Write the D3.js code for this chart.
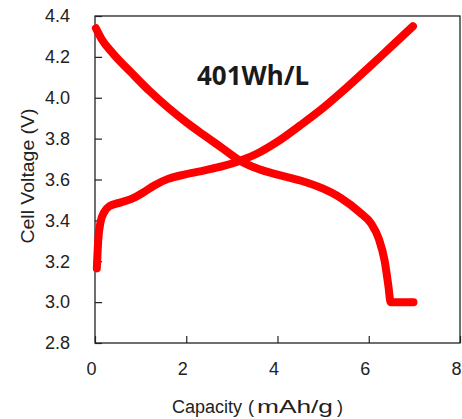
<!DOCTYPE html>
<html>
<head>
<meta charset="utf-8">
<script src="https://cdn.jsdelivr.net/npm/d3@7"></script>
<style>
	body { margin: 0; background: #fff; }
	text { font-family: "Liberation Sans", Arial, sans-serif; fill: #222; }
</style>
</head>
<body>
<div id="chart"></div>
<script>
// charge curve (rising)
var chargeCap = [0.04, 0.07, 0.12, 0.2, 0.32, 0.55, 0.8, 1.05, 1.3, 1.6, 2.0, 2.4, 2.8, 3.18, 3.6, 4.0, 4.5, 5.0, 5.5, 6.0, 6.5, 6.97]
var chargeV = [3.165, 3.30, 3.39, 3.44, 3.47, 3.487, 3.505, 3.535, 3.571, 3.603, 3.626, 3.645, 3.665, 3.692, 3.732, 3.785, 3.865, 3.95, 4.046, 4.148, 4.252, 4.35]
// discharge curve (falling)
var dischargeCap = [0.02, 0.15, 0.4, 0.8, 1.2, 1.6, 2.0, 2.4, 2.8, 3.18, 3.6, 4.0, 4.5, 5.0, 5.4, 5.8, 6.05, 6.22, 6.35, 6.43, 6.48, 6.98]
var dischargeV = [4.34, 4.285, 4.215, 4.122, 4.032, 3.952, 3.88, 3.815, 3.752, 3.692, 3.65, 3.624, 3.595, 3.555, 3.508, 3.44, 3.385, 3.31, 3.2, 3.08, 3.0, 3.0]

var xTicks = [0, 2, 4, 6, 8]
var yTicks = [2.8, 3.0, 3.2, 3.4, 3.6, 3.8, 4.0, 4.2, 4.4]

var margin = { left: 95, right: 2, top: 16, bottom: 76 }
var svgWidth = 462, svgHeight = 419
var width = svgWidth - margin.left - margin.right,
	height = svgHeight - margin.top - margin.bottom

var svg = d3.select("#chart")
	.append("svg")
	.attr("width", svgWidth)
	.attr("height", svgHeight)

var g = svg.append("g")
	.attr("transform", "translate(" + margin.left + ", " + margin.top + ")")

var x = d3.scaleLinear().domain([0, 8]).range([0, width])
var y = d3.scaleLinear().domain([2.8, 4.4]).range([height, 0])

var line = d3.line()
	.x(d => x(d[0]))
	.y(d => y(d[1]))
	.curve(d3.curveMonotoneX)

var charge = chargeCap.map((c, i) => [c, chargeV[i]])
var discharge = dischargeCap.map((c, i) => [c, dischargeV[i]])

// frame
g.append("rect")
	.attr("width", width)
	.attr("height", height)
	.attr("fill", "none")
	.attr("stroke", "#222")
	.attr("stroke-width", 1.3)

//axes
var xAxisCall = d3.axisBottom(x)
	.tickValues(xTicks)
	.tickSizeInner(-7)
	.tickSizeOuter(0)
	.tickPadding(19)
	.tickFormat(d3.format("d"))
var xAxis = g.append("g")
	.attr("class", "x axis")
	.attr("transform", "translate(0, " + height + ")")
	.call(xAxisCall)
xAxis.select(".domain").remove()
xAxis.selectAll("text").attr("dx", -4).attr("font-size", "18px")

var yAxisCall = d3.axisLeft(y)
	.tickValues(yTicks)
	.tickSizeInner(-7)
	.tickSizeOuter(0)
	.tickPadding(25)
	.tickFormat(d3.format(".1f"))
var yAxis = g.append("g")
	.attr("class", "y axis")
	.call(yAxisCall)
yAxis.select(".domain").remove()
yAxis.selectAll("text").attr("font-size", "18px")

svg.selectAll(".tick line").attr("stroke", "#222").attr("stroke-width", 1.2)
svg.selectAll(".tick text").style("fill", "#222").style("font-family", "'Liberation Sans', Arial, sans-serif")

// curves
g.selectAll("path.curve")
	.data([discharge, charge])
	.enter()
	.append("path")
	.attr("class", "curve")
	.attr("fill", "none")
	.attr("stroke", "#ff0000")
	.attr("stroke-width", 8)
	.attr("stroke-linecap", "round")
	.attr("stroke-linejoin", "round")
	.attr("d", line)

// label
g.append("text")
	.attr("x", 102)
	.attr("y", 69)
	.attr("font-size", "27px")
	.attr("font-weight", "bold")
	.style("font-family", "'Noto Sans', 'Open Sans', sans-serif")
	.style("fill", "#1a1a1a")
	.attr("textLength", 112)
	.attr("lengthAdjust", "spacingAndGlyphs")
	.text("401Wh/L")

//Labels
svg.append("text")
	.attr("x", 172)
	.attr("y", 413)
	.attr("font-size", "18px")
	.attr("textLength", 70)
	.attr("lengthAdjust", "spacingAndGlyphs")
	.text("Capacity")
svg.append("text")
	.attr("x", 248)
	.attr("y", 413)
	.attr("font-size", "18px")
	.text("(")
svg.append("text")
	.attr("x", 257)
	.attr("y", 413)
	.attr("font-size", "18px")
	.attr("textLength", 76)
	.attr("lengthAdjust", "spacingAndGlyphs")
	.text("mAh/g")
svg.append("text")
	.attr("x", 343)
	.attr("y", 413)
	.attr("font-size", "18px")
	.attr("text-anchor", "end")
	.text(")")
svg.append("text")
	.attr("transform", "translate(34, 176) rotate(-90)")
	.attr("font-size", "18px")
	.attr("text-anchor", "middle")
	.attr("textLength", 135)
	.attr("lengthAdjust", "spacingAndGlyphs")
	.text("Cell Voltage (V)")
</script>
</body>
</html>
